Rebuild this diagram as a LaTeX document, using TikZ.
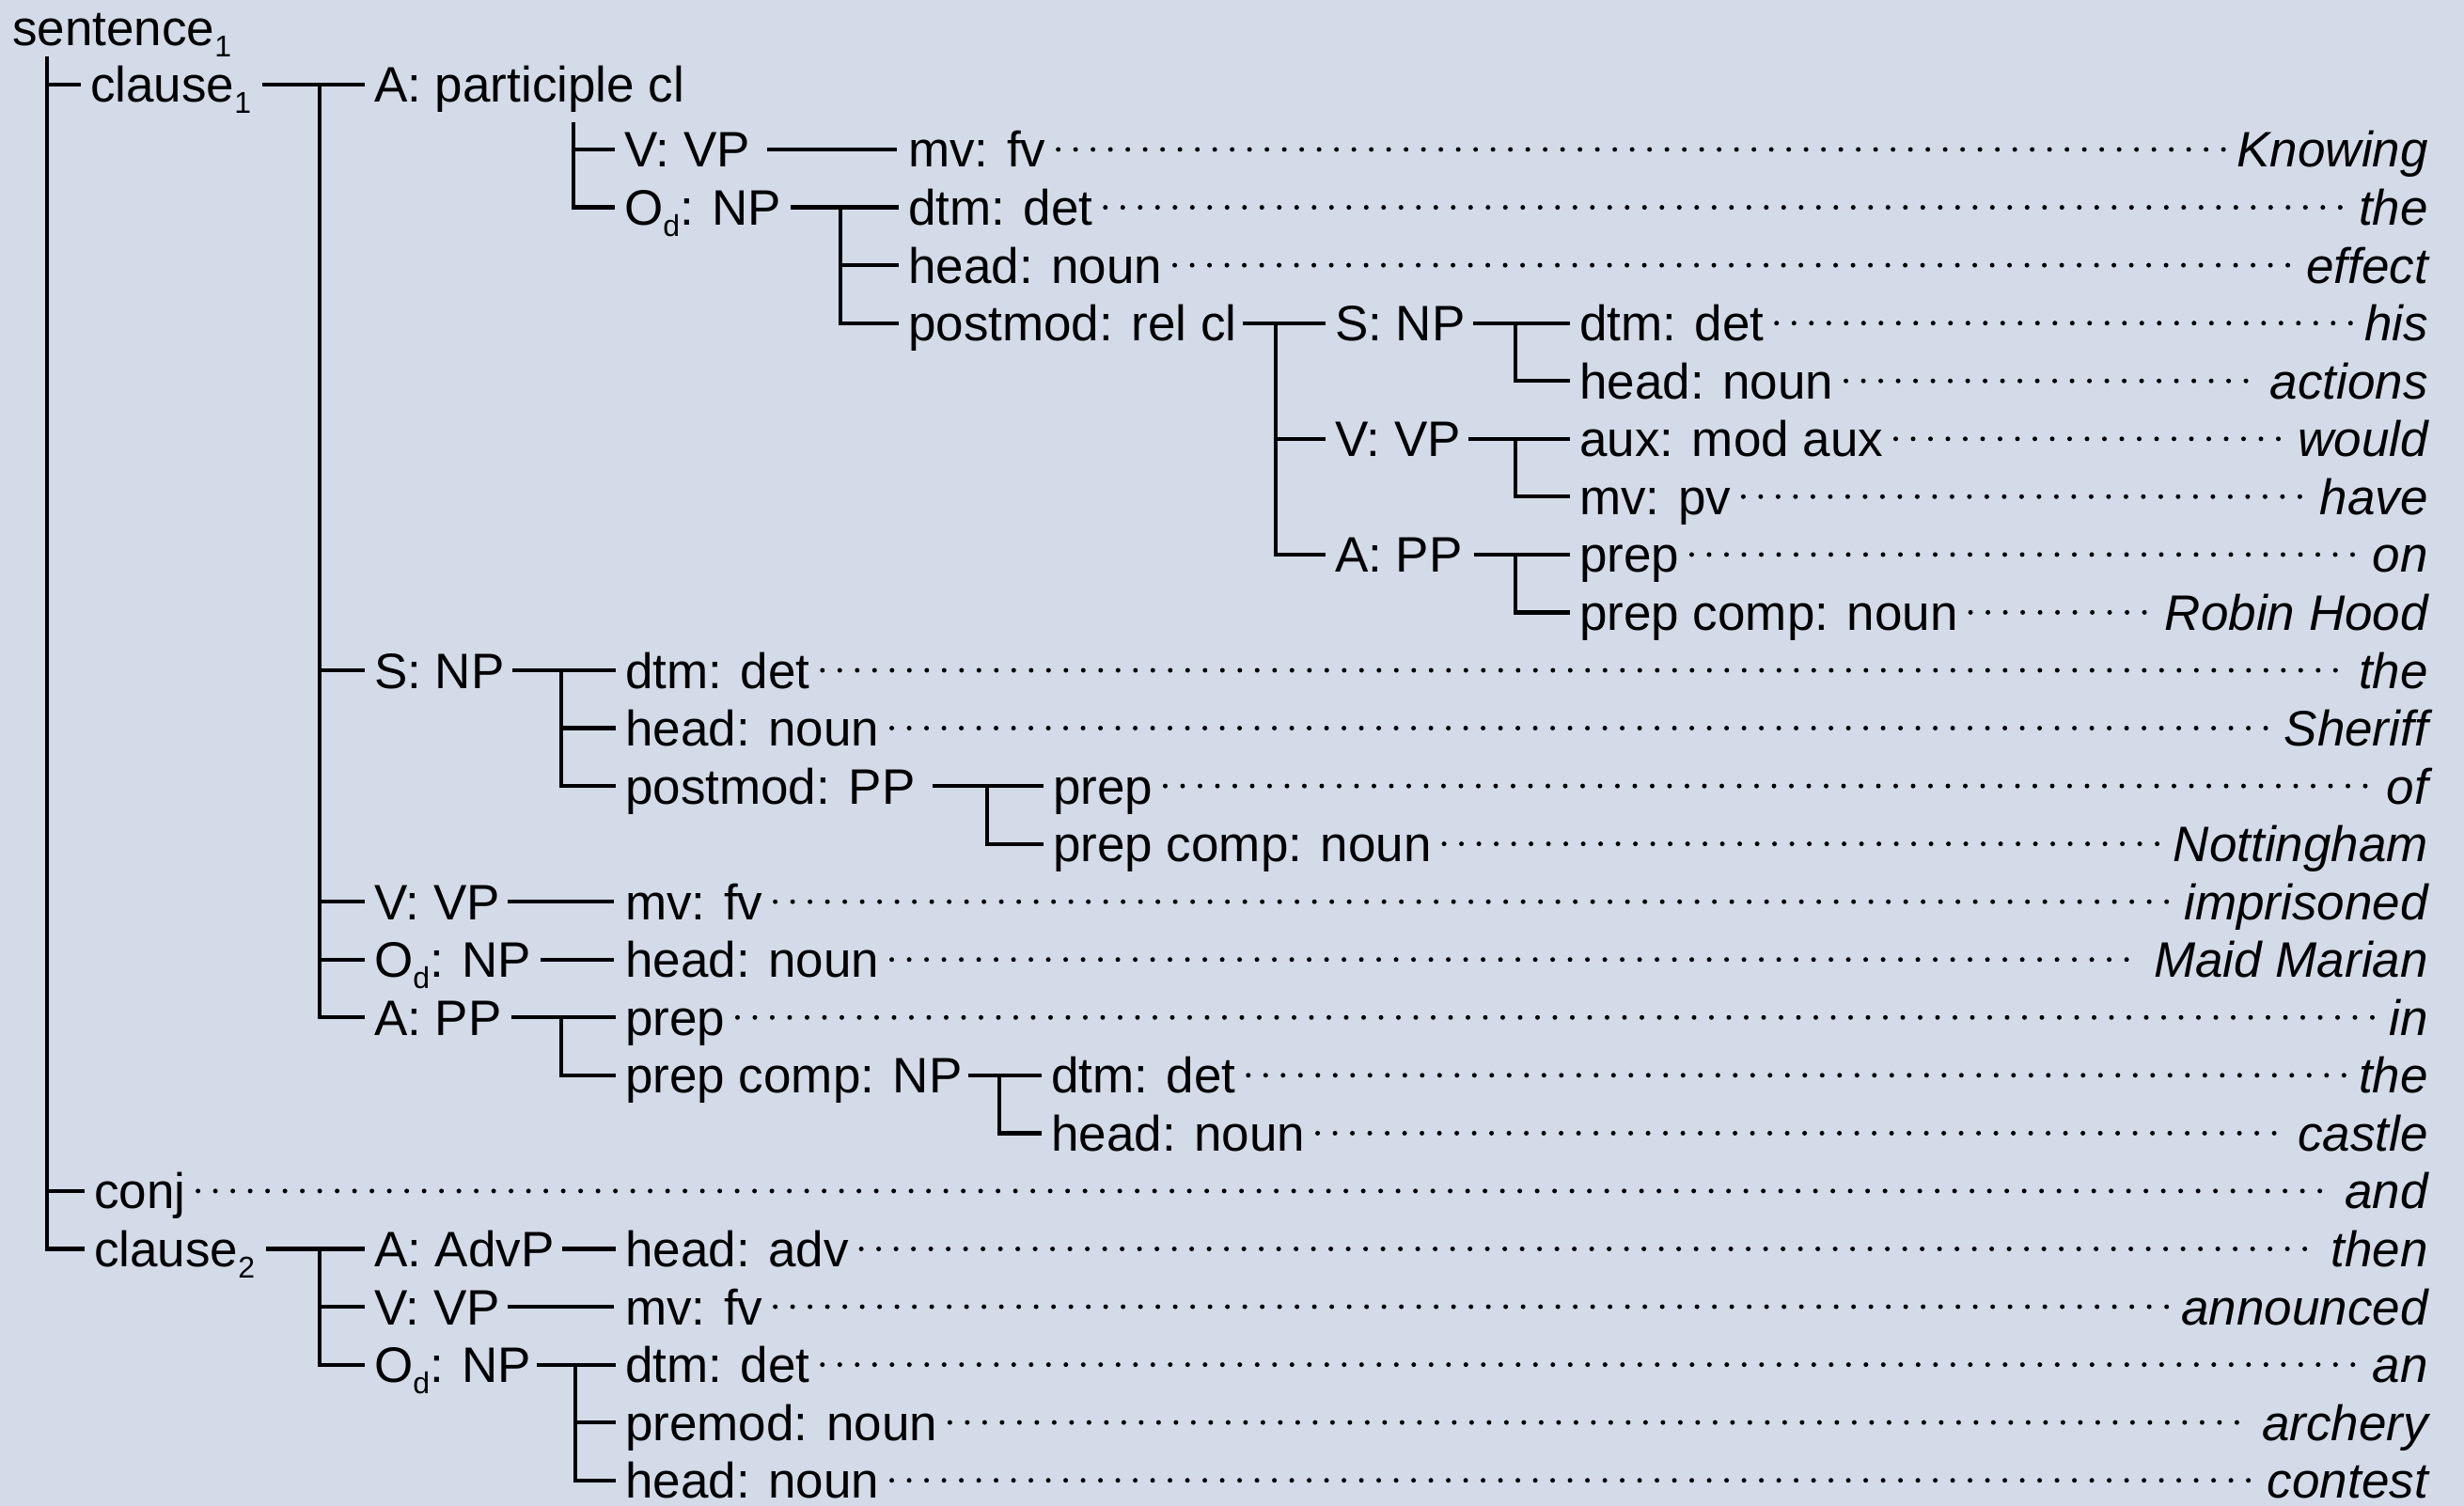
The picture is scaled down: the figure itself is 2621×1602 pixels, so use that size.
\documentclass[tikz,border=0pt]{standalone}
\usepackage{fontspec}
\setmainfont{Liberation Sans}
\definecolor{bg}{RGB}{211,218,232}
\newcommand\sbs[1]{\raisebox{-0.22em}{\fontsize{32}{32}\selectfont #1}}
\begin{document}
\begin{tikzpicture}[x=1pt,y=-1pt,
 lab/.style={anchor=west,inner sep=0pt,text height=38pt,text depth=0pt,font=\fontsize{53}{60}\selectfont},
 wrd/.style={anchor=east,inner sep=0pt,text height=38pt,text depth=0pt,font=\fontsize{53}{60}\selectfont\itshape},
 conn/.style={line width=4.2pt},
 lead/.style={line width=5pt,line cap=round,dash pattern=on 0pt off 18.5pt}]
\fill[bg] (0,0) rectangle (2621,1602);
\useasboundingbox (0,0) rectangle (2621,1602);
% labels
\node[lab] (sent) at (13,30) {sentence\sbs{1}};
\node[lab] (cl1) at (96,90) {clause\sbs{1}};
\node[lab] (apc) at (398,90) {A: participle cl};
\node[lab] (vvp1) at (664,159) {V: VP};
\node[lab] (mvfv1) at (966,159) {mv: fv};
\node[lab] (odnp1) at (664,220.6) {O\sbs{d}: NP};
\node[lab] (dtm1) at (966,220.6) {dtm: det};
\node[lab] (head1) at (966,282.1) {head: noun};
\node[lab] (pmrc) at (966,343.7) {postmod: rel cl};
\node[lab] (snp2) at (1420,343.7) {S: NP};
\node[lab] (dtm2) at (1680,343.7) {dtm: det};
\node[lab] (head2) at (1680,405.2) {head: noun};
\node[lab] (vvp2) at (1420,466.8) {V: VP};
\node[lab] (aux) at (1680,466.8) {aux: mod aux};
\node[lab] (mvpv) at (1680,528.3) {mv: pv};
\node[lab] (app2) at (1420,589.9) {A: PP};
\node[lab] (prep1) at (1680,589.9) {prep};
\node[lab] (pcn1) at (1680,651.4) {prep comp: noun};
\node[lab] (snp3) at (398,713) {S: NP};
\node[lab] (dtm3) at (665,713) {dtm: det};
\node[lab] (head3) at (665,774.5) {head: noun};
\node[lab] (pmpp) at (665,836.1) {postmod: PP};
\node[lab] (prep2) at (1120,836.1) {prep};
\node[lab] (pcn2) at (1120,897.6) {prep comp: noun};
\node[lab] (vvp3) at (398,959.2) {V: VP};
\node[lab] (mvfv2) at (665,959.2) {mv: fv};
\node[lab] (odnp2) at (398,1020.7) {O\sbs{d}: NP};
\node[lab] (head4) at (665,1020.7) {head: noun};
\node[lab] (app3) at (398,1082.3) {A: PP};
\node[lab] (prep3) at (665,1082.3) {prep};
\node[lab] (pcnp) at (665,1143.8) {prep comp: NP};
\node[lab] (dtm4) at (1118,1143.8) {dtm: det};
\node[lab] (head5) at (1118,1205.4) {head: noun};
\node[lab] (conj) at (100,1266.9) {conj};
\node[lab] (cl2) at (100,1328.5) {clause\sbs{2}};
\node[lab] (aadvp) at (398,1328.5) {A: AdvP};
\node[lab] (headadv) at (665,1328.5) {head: adv};
\node[lab] (vvp4) at (398,1390) {V: VP};
\node[lab] (mvfv3) at (665,1390) {mv: fv};
\node[lab] (odnp3) at (398,1451.6) {O\sbs{d}: NP};
\node[lab] (dtm5) at (665,1451.6) {dtm: det};
\node[lab] (premod) at (665,1513.1) {premod: noun};
\node[lab] (head6) at (665,1574.7) {head: noun};
% words
\node[wrd] (w1) at (2583,159) {Knowing};
\node[wrd] (w2) at (2583,220.6) {the};
\node[wrd] (w3) at (2583,282.1) {effect};
\node[wrd] (w4) at (2583,343.7) {his};
\node[wrd] (w5) at (2583,405.2) {actions};
\node[wrd] (w6) at (2583,466.8) {would};
\node[wrd] (w7) at (2583,528.3) {have};
\node[wrd] (w8) at (2583,589.9) {on};
\node[wrd] (w9) at (2583,651.4) {Robin Hood};
\node[wrd] (w10) at (2583,713) {the};
\node[wrd] (w11) at (2583,774.5) {Sheriff};
\node[wrd] (w12) at (2583,836.1) {of};
\node[wrd] (w13) at (2583,897.6) {Nottingham};
\node[wrd] (w14) at (2583,959.2) {imprisoned};
\node[wrd] (w15) at (2583,1020.7) {Maid Marian};
\node[wrd] (w16) at (2583,1082.3) {in};
\node[wrd] (w17) at (2583,1143.8) {the};
\node[wrd] (w18) at (2583,1205.4) {castle};
\node[wrd] (w19) at (2583,1266.9) {and};
\node[wrd] (w20) at (2583,1328.5) {then};
\node[wrd] (w21) at (2583,1390) {announced};
\node[wrd] (w22) at (2583,1451.6) {an};
\node[wrd] (w23) at (2583,1513.1) {archery};
\node[wrd] (w24) at (2583,1574.7) {contest};
% leaders
\foreach \a/\b in {mvfv1/w1,dtm1/w2,head1/w3,dtm2/w4,head2/w5,aux/w6,mvpv/w7,prep1/w8,pcn1/w9,dtm3/w10,head3/w11,prep2/w12,pcn2/w13,mvfv2/w14,head4/w15,prep3/w16,dtm4/w17,head5/w18,conj/w19,headadv/w20,mvfv3/w21,dtm5/w22,premod/w23,head6/w24}
  \draw[lead] ([xshift=13pt]\a.east) -- ([xshift=-11pt]\b.west);
% sentence bracket
\draw[conn] ([xshift=-46pt,yshift=30pt]cl1.west) |- ([xshift=-10pt]cl2.west);
\draw[conn] ([xshift=-46pt]cl1.west) -- ([xshift=-10pt]cl1.west);
\draw[conn] ([xshift=-50pt]conj.west) -- ([xshift=-10pt]conj.west);
% clause1
\draw[conn] ([xshift=12pt]cl1.east) -- ([xshift=-10pt]apc.west);
\draw[conn] ([xshift=-58pt]apc.west) |- ([xshift=-10pt]app3.west);
\foreach \c in {snp3,vvp3,odnp2}
  \draw[conn] ([xshift=-58pt]\c.west) -- ([xshift=-10pt]\c.west);
% clause2
\draw[conn] ([xshift=12pt]cl2.east) -- ([xshift=-10pt]aadvp.west);
\draw[conn] ([xshift=-58pt]aadvp.west) |- ([xshift=-10pt]odnp3.west);
\draw[conn] ([xshift=-58pt]vvp4.west) -- ([xshift=-10pt]vvp4.west);
% A: participle cl
\draw[conn] ([xshift=-54pt,yshift=29pt]vvp1.west) |- ([xshift=-10pt]odnp1.west);
\draw[conn] ([xshift=-54pt]vvp1.west) -- ([xshift=-10pt]vvp1.west);
% V: VP -> mv: fv
\draw[conn] ([xshift=18pt]vvp1.east) -- ([xshift=-12pt]mvfv1.west);
% Od: NP (1)
\draw[conn] ([xshift=10pt]odnp1.east) -- ([xshift=-10pt]dtm1.west);
\draw[conn] ([xshift=-72pt]dtm1.west) |- ([xshift=-10pt]pmrc.west);
\draw[conn] ([xshift=-72pt]head1.west) -- ([xshift=-10pt]head1.west);
% postmod: rel cl
\draw[conn] ([xshift=6pt]pmrc.east) -- ([xshift=-10pt]snp2.west);
\draw[conn] ([xshift=-63pt]snp2.west) |- ([xshift=-10pt]app2.west);
\draw[conn] ([xshift=-63pt]vvp2.west) -- ([xshift=-10pt]vvp2.west);
% S: NP (2)
\draw[conn] ([xshift=8pt]snp2.east) -- ([xshift=-10pt]dtm2.west);
\draw[conn] ([xshift=-68pt]dtm2.west) |- ([xshift=-10pt]head2.west);
% V: VP (2)
\draw[conn] ([xshift=8pt]vvp2.east) -- ([xshift=-10pt]aux.west);
\draw[conn] ([xshift=-68pt]aux.west) |- ([xshift=-10pt]mvpv.west);
% A: PP (2)
\draw[conn] ([xshift=12pt]app2.east) -- ([xshift=-10pt]prep1.west);
\draw[conn] ([xshift=-68pt]prep1.west) |- ([xshift=-10pt]pcn1.west);
% S: NP (3)
\draw[conn] ([xshift=8pt]snp3.east) -- ([xshift=-10pt]dtm3.west);
\draw[conn] ([xshift=-68pt]dtm3.west) |- ([xshift=-10pt]pmpp.west);
\draw[conn] ([xshift=-68pt]head3.west) -- ([xshift=-10pt]head3.west);
% postmod: PP
\draw[conn] ([xshift=18pt]pmpp.east) -- ([xshift=-10pt]prep2.west);
\draw[conn] ([xshift=-70pt]prep2.west) |- ([xshift=-10pt]pcn2.west);
% V: VP (3), Od: NP (2)
\draw[conn] ([xshift=8pt]vvp3.east) -- ([xshift=-12pt]mvfv2.west);
\draw[conn] ([xshift=10pt]odnp2.east) -- ([xshift=-12pt]head4.west);
% A: PP (3)
\draw[conn] ([xshift=10pt]app3.east) -- ([xshift=-10pt]prep3.west);
\draw[conn] ([xshift=-68pt]prep3.west) |- ([xshift=-10pt]pcnp.west);
% prep comp: NP
\draw[conn] ([xshift=6pt]pcnp.east) -- ([xshift=-10pt]dtm4.west);
\draw[conn] ([xshift=-55pt]dtm4.west) |- ([xshift=-10pt]head5.west);
% clause2 children
\draw[conn] ([xshift=8pt]aadvp.east) -- ([xshift=-10pt]headadv.west);
\draw[conn] ([xshift=8pt]vvp4.east) -- ([xshift=-12pt]mvfv3.west);
\draw[conn] ([xshift=6pt]odnp3.east) -- ([xshift=-10pt]dtm5.west);
\draw[conn] ([xshift=-53pt]dtm5.west) |- ([xshift=-10pt]head6.west);
\draw[conn] ([xshift=-53pt]premod.west) -- ([xshift=-10pt]premod.west);
\end{tikzpicture}
\end{document}
